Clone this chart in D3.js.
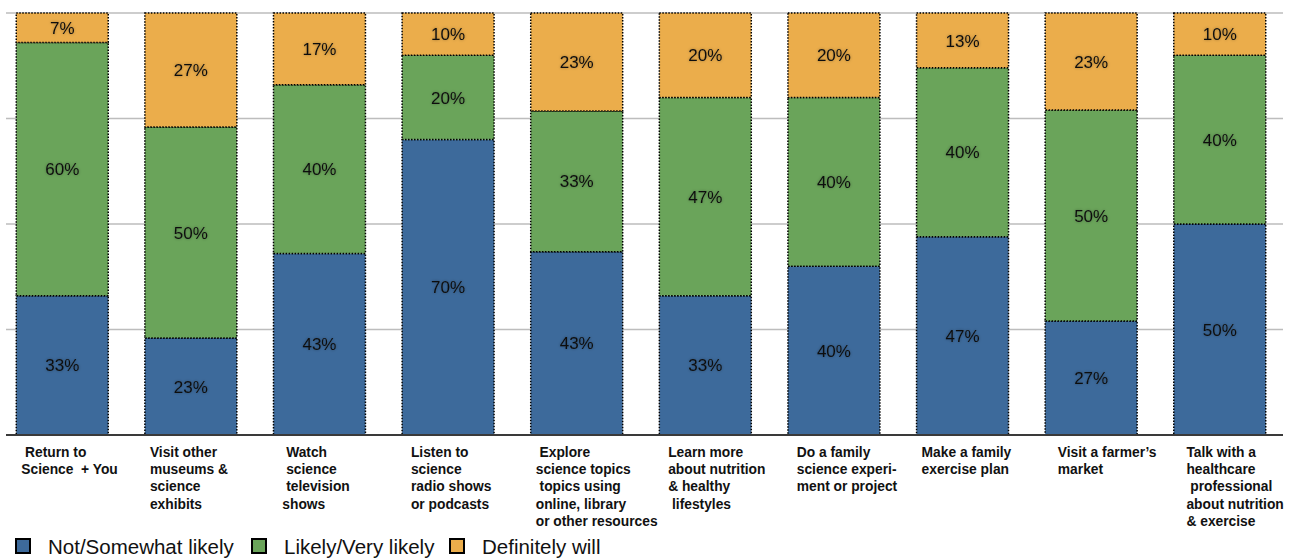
<!DOCTYPE html>
<html>
<head>
<meta charset="utf-8">
<script src="https://cdn.jsdelivr.net/npm/d3@7"></script>
<style>
  html, body { margin: 0; padding: 0; background: #fff; }
  svg { display: block; font-family: "Liberation Sans", Arial, Helvetica, sans-serif; }
</style>
</head>
<body>
<svg id="chart" width="1289" height="560"></svg>
<script>
// Activity labels (one array entry per line of the wrapped label)
const categories = [
  [" Return to", "Science  + You"],
  ["Visit other", "museums &", "science", "exhibits"],
  ["  Watch", "  science", "  television", " shows"],
  [" Listen to", " science", " radio shows", " or podcasts"],
  [" Explore", "science topics", " topics using", "online, library", "or other resources"],
  [" Learn more", " about nutrition", " & healthy", "  lifestyles"],
  [" Do a family", " science experi-", " ment or project"],
  ["Make a family", "exercise plan"],
  ["  Visit a farmer\u2019s", "  market"],
  ["  Talk with a", "  healthcare", "   professional", "  about nutrition", "  & exercise"]
];

// Percent of respondents per answer, in stacking order (bottom to top)
const notSomewhat   = [33, 23, 43, 70, 43, 33, 40, 47, 27, 50];
const likelyVery    = [60, 50, 40, 20, 33, 47, 40, 40, 50, 40];
const definitely    = [7, 27, 17, 10, 23, 20, 20, 13, 23, 10];

const seriesNames  = ["Not/Somewhat likely", "Likely/Very likely", "Definitely will"];
const seriesColors = ["#3d6a9b", "#6aa45a", "#ebad4b"];
const gridTicks    = [0, 0.25, 0.5, 0.75, 1];

const rows = categories.map((c, i) => ({
  idx: i,
  s0: notSomewhat[i],
  s1: likelyVery[i],
  s2: definitely[i]
}));

const svg = d3.select("#chart");

// Soft halo behind value labels
const defs = svg.append("defs");
const f = defs.append("filter").attr("id", "halo")
  .attr("x", "-30%").attr("y", "-40%").attr("width", "160%").attr("height", "180%");
f.append("feDropShadow").attr("dx", 0).attr("dy", 0)
  .attr("stdDeviation", 1.6).attr("flood-color", "#000").attr("flood-opacity", 0.35);

const x = d3.scaleBand()
  .domain(rows.map(d => d.idx))
  .range([-2, 1284])
  .paddingInner(0.285)
  .paddingOuter(0.142);

// 100% stacked: each bar is normalised to its total
const y = d3.scaleLinear().domain([0, 1]).range([435, 13]);

// Horizontal gridlines
const gridLeft = 6, gridRight = 1283;
svg.append("g").selectAll("line")
  .data(gridTicks.filter(t => t > 0))
  .join("line")
  .attr("x1", gridLeft).attr("x2", gridRight)
  .attr("y1", d => y(d)).attr("y2", d => y(d))
  .attr("stroke", "#bdbdbd").attr("stroke-width", 1.5);

// Stacked bars
const keys = ["s0", "s1", "s2"];
const stack = d3.stack().keys(keys).offset(d3.stackOffsetExpand);
const layers = stack(rows);

const layerG = svg.append("g").selectAll("g")
  .data(layers)
  .join("g")
  .attr("fill", (d, i) => seriesColors[i]);

layerG.selectAll("rect")
  .data(d => d)
  .join("rect")
  .attr("x", d => x(d.data.idx))
  .attr("width", x.bandwidth())
  .attr("y", d => y(d[1]))
  .attr("height", d => y(d[0]) - y(d[1]))
  .attr("stroke", "#000")
  .attr("stroke-width", 1.5)
  .attr("stroke-dasharray", "1.5,1.5");

// Baseline
svg.append("line")
  .attr("x1", gridLeft).attr("x2", gridRight)
  .attr("y1", y(0)).attr("y2", y(0))
  .attr("stroke", "#3a3a3a").attr("stroke-width", 2);

// Value labels centred in each segment
layerG.each(function(layer, li) {
  const key = keys[li];
  d3.select(this).selectAll("text")
    .data(layer)
    .join("text")
    .attr("x", d => x(d.data.idx) + x.bandwidth() / 2)
    .attr("y", d => (y(d[0]) + y(d[1])) / 2)
    .attr("dy", "0.36em")
    .attr("text-anchor", "middle")
    .attr("font-size", 17)
    .attr("fill", "#111")
    .attr("filter", "url(#halo)")
    .text(d => d.data[key] + "%");
});

// Category labels under the bars
const catG = svg.append("g");
rows.forEach(d => {
  const t = catG.append("text")
    .attr("x", x(d.idx) + 5)
    .attr("y", 457)
    .attr("font-size", 13.8)
    .attr("font-weight", "bold")
    .attr("fill", "#111")
    .style("white-space", "pre");
  categories[d.idx].forEach((line, li) => {
    t.append("tspan")
      .attr("x", x(d.idx) + 5)
      .attr("dy", li === 0 ? 0 : 17.2)
      .attr("xml:space", "preserve")
      .text(line);
  });
});

// Legend
const legendX = [16, 252, 450];
const legend = svg.append("g");
seriesNames.forEach((name, i) => {
  legend.append("rect")
    .attr("x", legendX[i]).attr("y", 539)
    .attr("width", 14).attr("height", 14)
    .attr("fill", seriesColors[i])
    .attr("stroke", "#000").attr("stroke-width", 2);
  legend.append("text")
    .attr("x", legendX[i] + 32).attr("y", 547)
    .attr("dy", "0.36em")
    .attr("font-size", 20.5)
    .attr("fill", "#111")
    .text(name);
});
</script>
</body>
</html>
